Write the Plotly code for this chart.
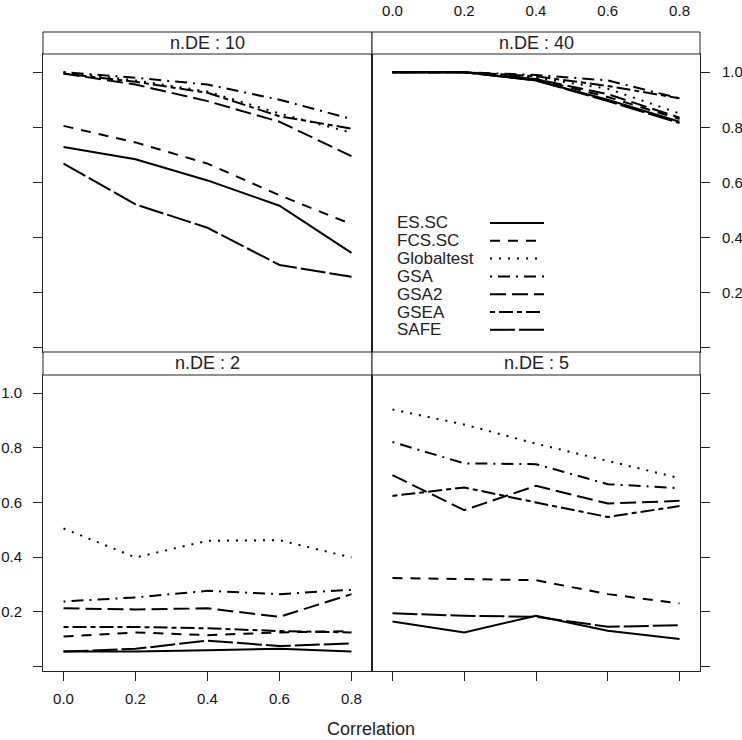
import plotly.graph_objects as go

correlation = [0.0, 0.2, 0.4, 0.6, 0.8]
methods = ["ES.SC", "FCS.SC", "Globaltest", "GSA", "GSA2", "GSEA", "SAFE"]
panel_titles = ["n.DE : 10", "n.DE : 40", "n.DE : 2", "n.DE : 5"]
x_tick_vals = [0.0, 0.2, 0.4, 0.6, 0.8]
x_tick_text = ["0.0", "0.2", "0.4", "0.6", "0.8"]
y_tick_vals = [0.0, 0.2, 0.4, 0.6, 0.8, 1.0]
y_tick_text = ["", "0.2", "0.4", "0.6", "0.8", "1.0"]

# n.DE : 10
nde10_es_sc = [0.728, 0.684, 0.607, 0.515, 0.344]
nde10_fcs_sc = [0.805, 0.745, 0.668, 0.553, 0.448]
nde10_globaltest = [1.0, 0.97, 0.93, 0.85, 0.78]
nde10_gsa = [1.0, 0.98, 0.955, 0.90, 0.83]
nde10_gsa2 = [0.995, 0.955, 0.895, 0.82, 0.695]
nde10_gsea = [0.995, 0.965, 0.925, 0.84, 0.795]
nde10_safe = [0.668, 0.52, 0.435, 0.30, 0.257]

# n.DE : 40
nde40_es_sc = [1.0, 1.0, 0.97, 0.90, 0.82]
nde40_fcs_sc = [1.0, 1.0, 0.975, 0.91, 0.83]
nde40_globaltest = [1.0, 1.0, 0.98, 0.94, 0.85]
nde40_gsa = [1.0, 1.0, 0.99, 0.97, 0.905]
nde40_gsa2 = [1.0, 1.0, 0.975, 0.92, 0.835]
nde40_gsea = [1.0, 1.0, 0.985, 0.95, 0.905]
nde40_safe = [1.0, 1.0, 0.97, 0.895, 0.815]

# n.DE : 2
nde2_es_sc = [0.055, 0.055, 0.06, 0.065, 0.055]
nde2_fcs_sc = [0.11, 0.125, 0.115, 0.125, 0.13]
nde2_globaltest = [0.505, 0.399, 0.46, 0.462, 0.399]
nde2_gsa = [0.238, 0.253, 0.277, 0.265, 0.281]
nde2_gsa2 = [0.213, 0.209, 0.213, 0.182, 0.265]
nde2_gsea = [0.145, 0.145, 0.14, 0.13, 0.125]
nde2_safe = [0.055, 0.065, 0.095, 0.075, 0.085]

# n.DE : 5
nde5_es_sc = [0.165, 0.125, 0.186, 0.131, 0.101]
nde5_fcs_sc = [0.324, 0.32, 0.316, 0.265, 0.231]
nde5_globaltest = [0.94, 0.885, 0.815, 0.752, 0.689]
nde5_gsa = [0.821, 0.743, 0.74, 0.667, 0.652]
nde5_gsa2 = [0.70, 0.572, 0.661, 0.596, 0.606]
nde5_gsea = [0.624, 0.655, 0.60, 0.547, 0.587]
nde5_safe = [0.195, 0.186, 0.182, 0.146, 0.151]

panel_data = [
    [nde10_es_sc, nde10_fcs_sc, nde10_globaltest, nde10_gsa, nde10_gsa2, nde10_gsea, nde10_safe],
    [nde40_es_sc, nde40_fcs_sc, nde40_globaltest, nde40_gsa, nde40_gsa2, nde40_gsea, nde40_safe],
    [nde2_es_sc, nde2_fcs_sc, nde2_globaltest, nde2_gsa, nde2_gsa2, nde2_gsea, nde2_safe],
    [nde5_es_sc, nde5_fcs_sc, nde5_globaltest, nde5_gsa, nde5_gsa2, nde5_gsea, nde5_safe],
]

dashes = ["solid", "10px,8px", "2px,7px", "2px,6px,12px,6px", "16px,6px",
          "5px,4px,14px,4px", "25px,4px"]

W, H = 742, 740
FONT = "Liberation Sans, Arial, sans-serif"

def px(x):
    return x / W

def py(y):
    return 1 - y / H

# geometry (pixels)
x_left, x_mid, x_right = 43, 372, 700
top_strip_top, top_strip_bot, mid_line = 32, 54, 352
bot_strip_bot, bot_bottom = 375, 671

dom_x = [[px(x_left), px(x_mid)], [px(x_mid), px(x_right)]]
dom_y_top = [py(mid_line), py(top_strip_bot)]
dom_y_bot = [py(bot_bottom), py(bot_strip_bot)]

# axis suffixes: panel 0 top-left -> 3, 1 top-right -> 4, 2 bottom-left -> 1, 3 bottom-right -> 2
axis_ids = ["3", "4", "", "2"]

fig = go.Figure()
for p, ids in enumerate(axis_ids):
    for m, series in enumerate(panel_data[p]):
        fig.add_trace(go.Scatter(
            x=correlation, y=series, mode="lines", name=methods[m],
            line=dict(color="black", width=2, dash=dashes[m]),
            xaxis="x" + ids, yaxis="y" + ids, showlegend=False,
            hoverinfo="skip",
        ))

XR = [-0.057, 0.857]
YR = [-0.016, 1.066]
tickfont = dict(family=FONT, size=15, color="#111")

def xaxis(domain, anchor, side, labels, standoff):
    return dict(domain=domain, anchor=anchor, range=XR, side=side,
                tickvals=x_tick_vals, ticktext=x_tick_text, showticklabels=labels,
                ticks="outside", ticklen=9, tickwidth=1, tickcolor="#222",
                showline=True, linecolor="#222", linewidth=1, mirror=True,
                showgrid=False, zeroline=False, tickfont=tickfont, automargin=False,
                ticklabelstandoff=standoff, fixedrange=True)

def yaxis(domain, anchor, side, labels, standoff):
    return dict(domain=domain, anchor=anchor, range=YR, side=side,
                tickvals=y_tick_vals, ticktext=y_tick_text, showticklabels=labels,
                ticks="outside", ticklen=9, tickwidth=1, tickcolor="#222",
                showline=True, linecolor="#222", linewidth=1, mirror=True,
                showgrid=False, zeroline=False, tickfont=tickfont, automargin=False,
                ticklabelstandoff=standoff, fixedrange=True)

layout = dict(
    width=W, height=H, margin=dict(l=0, r=0, t=0, b=0, autoexpand=False),
    paper_bgcolor="white", plot_bgcolor="white", showlegend=False,
    xaxis=xaxis(dom_x[0], "y", "bottom", True, 5),
    yaxis=yaxis(dom_y_bot, "x", "left", True, 8),
    xaxis2=xaxis(dom_x[1], "y2", "bottom", False, 5),
    yaxis2=yaxis(dom_y_bot, "x2", "right", False, 9),
    xaxis3=xaxis(dom_x[0], "y3", "top", False, 22),
    yaxis3=yaxis(dom_y_top, "x3", "left", False, 8),
    xaxis4=xaxis(dom_x[1], "y4", "top", True, 22),
    yaxis4=yaxis(dom_y_top, "x4", "right", True, 9),
)
fig.update_layout(**layout)

shapes = []
annotations = []
strips = [
    (x_left, x_mid, top_strip_top, top_strip_bot, panel_titles[0]),
    (x_mid, x_right, top_strip_top, top_strip_bot, panel_titles[1]),
    (x_left, x_mid, mid_line, bot_strip_bot, panel_titles[2]),
    (x_mid, x_right, mid_line, bot_strip_bot, panel_titles[3]),
]
for x0, x1, y0, y1, t in strips:
    shapes.append(dict(type="rect", xref="paper", yref="paper",
                       x0=px(x0), x1=px(x1), y0=py(y1), y1=py(y0),
                       line=dict(color="#222", width=1), fillcolor="white", layer="above"))
    annotations.append(dict(text=t, xref="paper", yref="paper",
                            x=px((x0 + x1) / 2), y=py((y0 + y1) / 2),
                            xanchor="center", yanchor="middle", showarrow=False,
                            font=dict(family=FONT, size=18, color="#222")))

# legend (inside n.DE : 40 panel)
leg_text_x, leg_line_x0, leg_line_x1 = 395, 490, 544
leg_y0, leg_dy = 223, 17.8
for i, m in enumerate(methods):
    yy = leg_y0 + i * leg_dy
    annotations.append(dict(text=m, xref="paper", yref="paper",
                            x=px(leg_text_x), y=py(yy), xanchor="left", yanchor="middle",
                            showarrow=False, font=dict(family=FONT, size=17, color="#222")))
    shapes.append(dict(type="line", xref="paper", yref="paper",
                       x0=px(leg_line_x0), x1=px(leg_line_x1), y0=py(yy), y1=py(yy),
                       line=dict(color="black", width=2, dash=dashes[i])))

annotations.append(dict(text="Correlation", xref="paper", yref="paper",
                        x=px(371), y=py(729), xanchor="center", yanchor="middle",
                        showarrow=False, font=dict(family=FONT, size=18, color="#222")))

fig.update_layout(shapes=shapes, annotations=annotations)
fig.write_html("out.html", config={"displayModeBar": False},
               post_script="document.body.style.margin='0';document.body.style.overflow='hidden';")
